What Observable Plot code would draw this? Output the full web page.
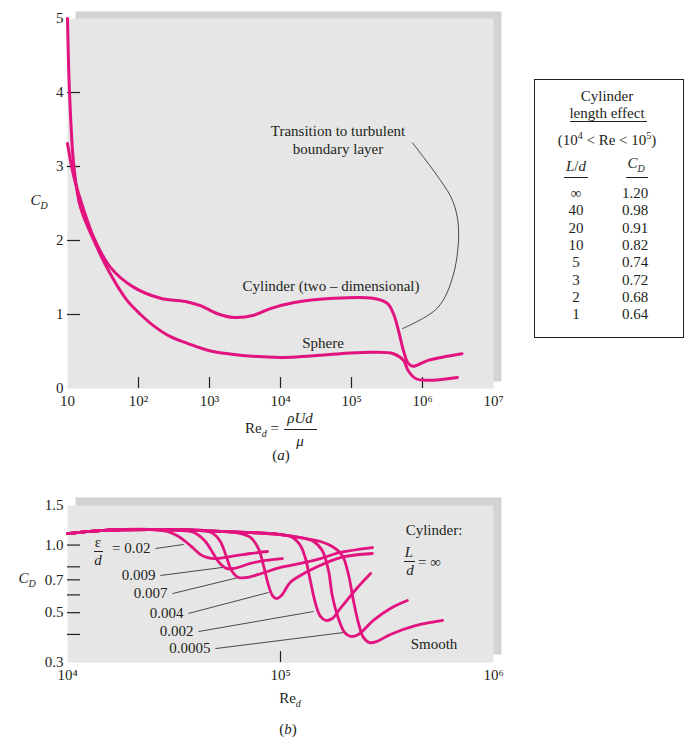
<!DOCTYPE html>
<html><head><meta charset="utf-8">
<script src="https://cdn.jsdelivr.net/npm/d3@7"></script>
<script src="https://cdn.jsdelivr.net/npm/@observablehq/plot@0.6"></script>
<style>
body{margin:0;background:#fff;}
#root{position:relative;width:695px;height:748px;font-family:"Liberation Serif","Times New Roman",serif;color:#231f20;font-size:15px;overflow:hidden;}
#root svg{position:absolute;left:0;}
.t{position:absolute;white-space:nowrap;transform:translate(-50%,-50%);line-height:1;}
.l{position:absolute;white-space:nowrap;transform:translate(0,-50%);line-height:1;}
.hr{position:absolute;height:0;border-top:1px solid #231f20;}
.sb{font-size:10px;position:relative;top:4px;}
.sp{font-size:10px;position:relative;top:-6px;}
.box{position:absolute;border:1.3px solid #231f20;box-sizing:border-box;}
</style></head><body><div id="root"></div>
<script>
const MAGENTA = "#e2137f";
const INK = "#231f20";

// ---------- (a) data ----------
const sphereRe = [10, 10.7, 12.3, 15.2, 23.5, 40, 69, 107, 162, 282, 490, 1000, 2200, 1e4, 7e4, 2e5, 3.9e5, 5.4e5, 6.3e5, 8e5, 1.17e6, 3.1e6];
const sphereCd = [5.0, 3.98, 3.0, 2.45, 2.0, 1.55, 1.19, 1.0, 0.85, 0.70, 0.61, 0.51, 0.46, 0.42, 0.47, 0.49, 0.47, 0.38, 0.24, 0.135, 0.11, 0.15];
const cylRe = [10, 12.3, 17, 23.5, 40, 85, 204, 490, 745, 1300, 2200, 4200, 7200, 1.5e4, 5.6e4, 2e5, 3.2e5, 3.9e5, 4.6e5, 5.4e5, 6.3e5, 7.4e5, 1.2e6, 3.6e6];
const cylCd = [3.31, 2.86, 2.41, 2.04, 1.64, 1.37, 1.22, 1.17, 1.12, 1.01, 0.96, 0.99, 1.08, 1.16, 1.22, 1.22, 1.15, 1.01, 0.78, 0.51, 0.34, 0.30, 0.38, 0.47];
const transitionLeaderRe = [7.23e5, 1.80e6, 2.65e6, 3.21e6, 2.74e6, 1.63e6, 5.23e5];
const transitionLeaderCd = [3.32, 2.81, 2.54, 2.18, 1.55, 1.09, 0.81];
const xTicksA = [10, 1e2, 1e3, 1e4, 1e5, 1e6, 1e7];
const yTicksA = [0, 1, 2, 3, 4, 5];

// ---------- table ----------
const tableLd = ["∞", "40", "20", "10", "5", "3", "2", "1"];
const tableCd = ["1.20", "0.98", "0.91", "0.82", "0.74", "0.72", "0.68", "0.64"];

// ---------- (b) data ----------
const rough002 = [[1e4,1.125],[1.43e4,1.16],[2.45e4,1.173],[2.94e4,1.149],[3.28e4,1.10],[3.58e4,1.037],[3.91e4,0.965],[4.21e4,0.907],[4.54e4,0.880],[4.95e4,0.871],[5.82e4,0.889],[7.23e4,0.917],[8.69e4,0.936]];
const rough0009 = [[1e4,1.125],[1.43e4,1.16],[2.45e4,1.173],[3.78e4,1.149],[4.08e4,1.114],[4.44e4,1.037],[4.8e4,0.927],[5.15e4,0.836],[5.58e4,0.787],[6.08e4,0.787],[7.23e4,0.828],[8.51e4,0.854],[1.02e5,0.871]];
const rough0007 = [[1e4,1.125],[1.43e4,1.16],[2.45e4,1.173],[4.44e4,1.16],[4.84e4,1.125],[5.22e4,1.037],[5.57e4,0.889],[5.89e4,0.771],[6.35e4,0.717],[6.92e4,0.717],[7.88e4,0.740],[1.0e5,0.795],[1.24e5,0.828],[1.54e5,0.871],[1.91e5,0.927],[2.70e5,0.975]];
const rough0004 = [[1e4,1.125],[1.43e4,1.16],[2.45e4,1.173],[4.21e4,1.16],[6.49e4,1.125],[7.23e4,1.081],[7.88e4,0.965],[8.32e4,0.811],[8.79e4,0.660],[9.17e4,0.596],[9.57e4,0.578],[1.01e5,0.596],[1.11e5,0.681],[1.24e5,0.732],[1.43e5,0.787],[1.91e5,0.880],[2.70e5,0.917]];
const rough0002 = [[1e4,1.125],[1.43e4,1.16],[2.45e4,1.173],[4.21e4,1.16],[7.23e4,1.137],[1.0e5,1.114],[1.14e5,1.081],[1.24e5,0.995],[1.31e5,0.871],[1.38e5,0.695],[1.46e5,0.549],[1.54e5,0.481],[1.63e5,0.462],[1.75e5,0.471],[1.91e5,0.522],[2.30e5,0.647],[2.65e5,0.747]];
const rough00005 = [[1e4,1.125],[1.43e4,1.16],[2.45e4,1.173],[4.21e4,1.16],[7.23e4,1.137],[1.0e5,1.114],[1.24e5,1.080],[1.43e5,1.037],[1.57e5,0.945],[1.68e5,0.771],[1.75e5,0.596],[1.87e5,0.471],[2.0e5,0.408],[2.13e5,0.392],[2.32e5,0.400],[2.73e5,0.462],[3.28e5,0.522],[3.94e5,0.566]];
const smooth = [[1e4,1.125],[1.43e4,1.16],[2.45e4,1.173],[4.21e4,1.16],[7.23e4,1.137],[1.0e5,1.114],[1.24e5,1.080],[1.54e5,1.037],[1.75e5,0.985],[1.95e5,0.898],[2.09e5,0.732],[2.20e5,0.566],[2.32e5,0.452],[2.45e5,0.388],[2.62e5,0.368],[2.83e5,0.372],[3.28e5,0.400],[4.30e5,0.438],[5.77e5,0.462]];
const roughSeries = [["0.02", rough002], ["0.009", rough0009], ["0.007", rough0007], ["0.004", rough0004], ["0.002", rough0002], ["0.0005", rough00005], ["smooth", smooth]];
const leaderLabels = ["= 0.02", "0.009", "0.007", "0.004", "0.002", "0.0005"];
const leaderStart = [[2.59e4,0.965],[2.73e4,0.732],[3.11e4,0.608],[3.70e4,0.496],[4.12e4,0.412],[4.95e4,0.346]];
const leaderEnd = [[3.51e4,1.006],[5.35e4,0.795],[6.35e4,0.717],[8.79e4,0.615],[1.43e5,0.506],[1.98e5,0.408]];
const xTicksB = [1e4, 1e5, 1e6];
const yLabelsB = [1.5, 1.0, 0.7, 0.5, 0.3];
const yTickMarksB = [1.0, 0.8, 0.7, 0.6, 0.5, 0.4];

// ---------- helpers ----------
const SUP = {"0":"⁰","1":"¹","2":"²","3":"³","4":"⁴","5":"⁵","6":"⁶","7":"⁷","8":"⁸","9":"⁹"};
const pow10 = d => { const e = Math.round(Math.log10(d)); return e === 1 ? "10" : "10" + String(e).split("").map(c => SUP[c]).join(""); };
const baseStyle = {fontFamily: "'Liberation Serif', 'Times New Roman', serif", fontSize: "15px", color: INK, background: "transparent", overflow: "visible"};

const sphereRows = sphereRe.map((re, i) => ({re, cd: sphereCd[i]}));
const cylRows = cylRe.map((re, i) => ({re, cd: cylCd[i]}));
const leaderARows = transitionLeaderRe.map((re, i) => ({re, cd: transitionLeaderCd[i]}));

const chartA = Plot.plot({
  width: 695, height: 470,
  marginLeft: 67, marginRight: 202, marginTop: 18, marginBottom: 82,
  style: baseStyle,
  x: {type: "log", domain: [10, 1e7]},
  y: {domain: [0, 5]},
  marks: [
    Plot.frame({fill: "#d3d3d3", stroke: "none", dx: 8, dy: -7}),
    Plot.frame({fill: "#e6e6e6", stroke: "none"}),
    Plot.axisY({ticks: [1, 2, 3, 4], tickSize: 13, dx: 13, fill: "none", label: null, stroke: INK, strokeWidth: 1.2}),
    Plot.axisY({ticks: yTicksA, tickSize: 0, tickPadding: 4, label: null, fill: INK, tickFormat: d => String(d)}),
    Plot.axisX({ticks: [1e2, 1e3, 1e4, 1e5, 1e6], tickSize: 11, dy: -11, fill: "none", label: null, stroke: INK, strokeWidth: 1.2}),
    Plot.axisX({ticks: xTicksA, tickSize: 0, tickPadding: 7, label: null, fill: INK, tickFormat: pow10}),
    Plot.line(leaderARows, {x: "re", y: "cd", curve: "catmull-rom", stroke: INK, strokeWidth: 0.8}),
    Plot.line(sphereRows, {x: "re", y: "cd", curve: "catmull-rom", stroke: MAGENTA, strokeWidth: 3, strokeLinecap: "round"}),
    Plot.line(cylRows, {x: "re", y: "cd", curve: "catmull-rom", stroke: MAGENTA, strokeWidth: 3, strokeLinecap: "round"})
  ]
});
chartA.style.top = "0px";

const roughRows = roughSeries.flatMap(([name, pts]) => pts.map(([re, cd]) => ({re, cd, name})));
const leaderRows = leaderLabels.map((label, i) => ({label, x1: leaderStart[i][0], y1: leaderStart[i][1], x2: leaderEnd[i][0], y2: leaderEnd[i][1]}));

const chartB = Plot.plot({
  width: 695, height: 278,
  marginLeft: 67, marginRight: 202, marginTop: 35, marginBottom: 86,
  style: baseStyle,
  x: {type: "log", domain: [1e4, 1e6]},
  y: {type: "log", domain: [0.3, 1.5]},
  marks: [
    Plot.frame({fill: "#d3d3d3", stroke: "none", dx: 8, dy: -8}),
    Plot.frame({fill: "#e6e6e6", stroke: "none"}),
    Plot.axisY({ticks: yTickMarksB, tickSize: 13, dx: 13, fill: "none", label: null, stroke: INK, strokeWidth: 1.2}),
    Plot.axisY({ticks: yLabelsB, tickSize: 0, tickPadding: 4, label: null, fill: INK, tickFormat: d => d.toFixed(1)}),
    Plot.axisX({ticks: [1e5], tickSize: 11, dy: -11, fill: "none", label: null, stroke: INK, strokeWidth: 1.2}),
    Plot.axisX({ticks: xTicksB, tickSize: 0, tickPadding: 7, label: null, fill: INK, tickFormat: pow10}),
    Plot.link(leaderRows, {x1: "x1", y1: "y1", x2: "x2", y2: "y2", stroke: INK, strokeWidth: 0.8}),
    Plot.text(leaderRows, {x: "x1", y: "y1", text: "label", textAnchor: "end", dx: -5, fill: INK}),
    Plot.line(roughRows, {x: "re", y: "cd", z: "name", curve: "catmull-rom", stroke: MAGENTA, strokeWidth: 2.8, strokeLinecap: "round"})
  ]
});
chartB.style.top = "470px";

const root = document.getElementById("root");
root.appendChild(chartA);
root.appendChild(chartB);

function put(html, x, y, cls = "t", extra = "") {
  const d = document.createElement("div");
  d.className = cls;
  d.style.left = x + "px";
  d.style.top = y + "px";
  if (extra) d.style.cssText += extra;
  d.innerHTML = html;
  root.appendChild(d);
  return d;
}
function hr(x1, x2, y) {
  const d = document.createElement("div");
  d.className = "hr";
  d.style.left = x1 + "px"; d.style.top = y + "px"; d.style.width = (x2 - x1) + "px";
  root.appendChild(d);
}

// (a) text
put('<i>C</i><span class="sb"><i>D</i></span>', 39, 200);
put("Transition to turbulent", 338, 131);
put("boundary layer", 338, 149);
put("Cylinder (two – dimensional)", 331, 286);
put("Sphere", 323, 343);
put('Re<span class="sb"><i>d</i></span> =', 245, 428, "l");
put('<i>ρUd</i>', 300, 418);
hr(284, 317, 429);
put('<i>μ</i>', 300, 441);
put('(<i>a</i>)', 281, 455);

// table
const box = document.createElement("div");
box.className = "box";
box.style.cssText += "left:534px;top:79px;width:150px;height:259px;";
root.appendChild(box);
put("Cylinder", 607, 96);
put("length effect", 607, 113);
hr(570, 647, 121);
put('(10<span class="sp">4</span> &lt; Re &lt; 10<span class="sp">5</span>)', 607, 140);
put('<i>L</i>/<i>d</i>', 576, 166);
hr(564, 588, 177);
put('<i>C</i><span class="sb"><i>D</i></span>', 636, 163);
hr(626, 648, 177);
tableLd.forEach((v, i) => put(v, 576, 193 + i * 17.3));
tableCd.forEach((v, i) => put(v, 635, 193 + i * 17.3));

// (b) text
put('<i>C</i><span class="sb"><i>D</i></span>', 27, 578);
put('ε', 98, 542);
hr(94, 103, 551);
put('<i>d</i>', 98, 560);
put("Cylinder:", 434, 530);
put('<i>L</i>', 409, 552);
hr(404, 415, 561);
put('<i>d</i>', 410, 570);
put('= ∞', 418, 562, "l");
put("Smooth", 434, 644);
put('Re<span class="sb"><i>d</i></span>', 290, 698);
put('(<i>b</i>)', 288, 729);
</script></body></html>
